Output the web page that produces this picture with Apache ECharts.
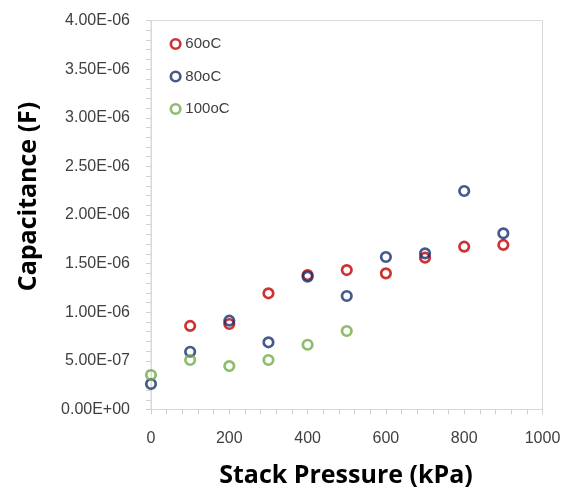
<!DOCTYPE html>
<html><head><meta charset="utf-8">
<script src="https://cdn.jsdelivr.net/npm/echarts@6/dist/echarts.min.js"></script>
<style>html,body{margin:0;padding:0;background:#fff}#c{width:566px;height:490px}</style>
</head><body><div id="c"></div>
<script>
var pressure60 = [100, 200, 300, 400, 500, 600, 700, 800, 900];
var cap60 = [0.859e-6, 0.879e-6, 1.195e-6, 1.383e-6, 1.434e-6, 1.400e-6, 1.561e-6, 1.674e-6, 1.692e-6];
var pressure80 = [0, 100, 200, 300, 400, 500, 600, 700, 800, 900];
var cap80 = [0.262e-6, 0.594e-6, 0.913e-6, 0.691e-6, 1.366e-6, 1.167e-6, 1.568e-6, 1.606e-6, 2.247e-6, 1.812e-6];
var pressure100 = [0, 100, 200, 300, 400, 500];
var cap100 = [0.355e-6, 0.509e-6, 0.447e-6, 0.509e-6, 0.666e-6, 0.807e-6];
var seriesNames = ['60oC', '80oC', '100oC'];
var xTitle = 'Stack Pressure (kPa)';
var yTitle = 'Capacitance (F)';

function zip(a, b) { return a.map(function (v, i) { return [v, b[i]]; }); }
function fmtE(v) {
  var s = Number(v).toExponential(2).toUpperCase();
  return s.replace(/E([+-])(\d)$/, 'E$10$2');
}
var font = 'Liberation Sans';
var colors = ['#C00000', '#17306E', '#70AD47'];
var ring = function (c) { return { color: 'rgba(255,255,255,0)', borderColor: c, borderWidth: 2.7 }; };
function mk(name, data, color) {
  return {
    name: name, type: 'scatter', data: data, symbol: 'circle', symbolSize: 9.5,
    itemStyle: ring(color)
  };
}
var chart = echarts.init(document.getElementById('c'));
chart.setOption({
  animation: false,
  backgroundColor: '#fff',
  grid: { left: 151, right: 23.5, top: 20.5, bottom: 80.5, show: true, borderColor: '#d9d9d9', borderWidth: 1 },
  legend: {
    orient: 'vertical', left: 164.5, top: 31.5, itemGap: 17.5,
    itemWidth: 9.5, itemHeight: 9.5,
    textStyle: { fontFamily: font, fontSize: 15, lineHeight: 15, color: '#404040' },
    data: seriesNames.map(function (n, i) { return { name: n, icon: 'circle', itemStyle: ring(colors[i]) }; })
  },
  xAxis: {
    type: 'value', min: 0, max: 1000, interval: 200,
    axisLine: { lineStyle: { color: '#d9d9d9', width: 1 } },
    axisTick: { show: true, length: 5, lineStyle: { color: '#d0d0d0' } },
    minorTick: { show: true, splitNumber: 5, length: 5, lineStyle: { color: '#d0d0d0' } },
    splitLine: { show: false },
    axisLabel: { fontFamily: font, fontSize: 16, color: '#404040', margin: 21, formatter: function (v) { return String(v); } }
  },
  yAxis: {
    type: 'value', min: 0, max: 4e-6, interval: 0.5e-6,
    axisLine: { show: true, lineStyle: { color: '#d9d9d9', width: 1 } },
    axisTick: { show: true, length: 5, lineStyle: { color: '#d0d0d0' } },
    minorTick: { show: true, splitNumber: 5, length: 5, lineStyle: { color: '#d0d0d0' } },
    splitLine: { show: false },
    axisLabel: { fontFamily: font, fontSize: 16, color: '#404040', margin: 21, formatter: fmtE }
  },
  graphic: [
    { type: 'text', x: 346, y: 476,
      style: { text: xTitle, font: 'bold 25px "Open Sans"', fill: '#000', align: 'center', verticalAlign: 'middle' } },
    { type: 'text', rotation: Math.PI / 2, x: 29, y: 196.5,
      style: { text: yTitle, font: 'bold 25px "Open Sans"', fill: '#000', align: 'center', verticalAlign: 'middle' } }
  ],
  series: [
    mk(seriesNames[0], zip(pressure60, cap60), colors[0]),
    mk(seriesNames[1], zip(pressure80, cap80), colors[1]),
    mk(seriesNames[2], zip(pressure100, cap100), colors[2])
  ]
});
</script></body></html>
